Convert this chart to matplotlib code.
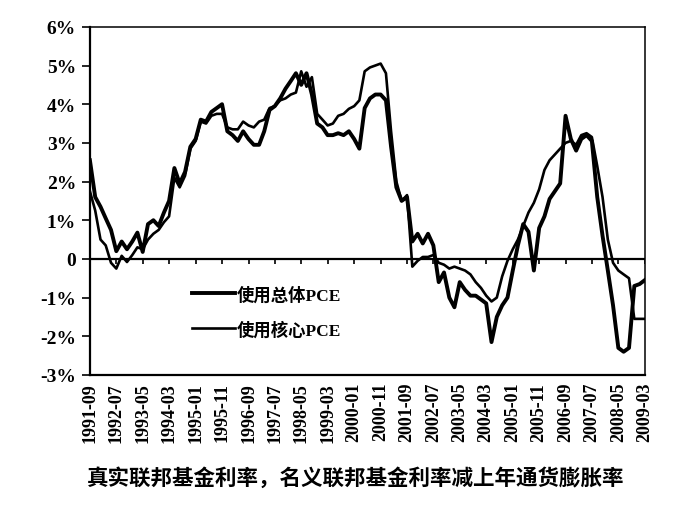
import numpy as np
import pandas as pd
import matplotlib
matplotlib.use('Agg')
import matplotlib.pyplot as plt
import matplotlib.dates as mdates

# real fed funds rate, bi-monthly readings 1991-09 .. 2009-03
start = '1991-09-01'
end = '2009-03-01'

headline = [2.55, 1.6, 1.35, 1.05, 0.75, 0.2, 0.45, 0.25, 0.45, 0.68,
            0.18, 0.9, 1.0, 0.85, 1.2, 1.5, 2.35, 1.95, 2.25, 2.9,
            3.1, 3.6, 3.55, 3.8, 3.9, 4.0, 3.3, 3.2, 3.05, 3.3,
            3.1, 2.95, 2.95, 3.3, 3.85, 3.95, 4.15, 4.4, 4.6, 4.8,
            4.5, 4.8, 4.25, 3.5, 3.4, 3.2, 3.2, 3.25, 3.2, 3.3,
            3.1, 2.85, 3.9, 4.15, 4.25, 4.25, 4.1, 2.9, 1.85, 1.5,
            1.6, 0.45, 0.65, 0.4, 0.65, 0.35, -0.6, -0.35, -1.0, -1.25,
            -0.6, -0.8, -0.95, -0.95, -1.05, -1.15, -2.15, -1.5, -1.2, -1.0,
            -0.3, 0.35, 0.9, 0.7, -0.3, 0.8, 1.1, 1.55, 1.75, 1.95,
            3.7, 3.1, 2.8, 3.1, 3.2, 3.05, 1.6, 0.6, -0.3, -1.2,
            -2.3, -2.4, -2.3, -0.7, -0.65, -0.55]

core = [1.75, 1.25, 0.5, 0.35, -0.1, -0.25, 0.08, -0.08, 0.1, 0.3,
        0.25, 0.5, 0.65, 0.75, 0.95, 1.1, 2.1, 1.85, 2.15, 2.85,
        3.05, 3.55, 3.5, 3.7, 3.75, 3.75, 3.4, 3.35, 3.35, 3.55,
        3.45, 3.4, 3.55, 3.6, 3.9, 3.95, 4.1, 4.15, 4.25, 4.3,
        4.85, 4.45, 4.7, 3.75, 3.6, 3.45, 3.5, 3.7, 3.75, 3.88,
        3.95, 4.1, 4.85, 4.95, 5.0, 5.05, 4.8, 3.3, 2.0, 1.5,
        1.65, -0.2, -0.05, 0.05, 0.05, 0.1, -0.1, -0.15, -0.25, -0.2,
        -0.25, -0.3, -0.4, -0.6, -0.75, -0.95, -1.1, -1.0, -0.45, -0.05,
        0.25, 0.5, 0.85, 1.2, 1.45, 1.8, 2.3, 2.55, 2.7, 2.85,
        3.0, 3.05, 2.95, 3.2, 3.25, 3.15, 2.4, 1.6, 0.5, -0.1,
        -0.3, -0.4, -0.5, -1.55, -1.55, -1.55]

yticks = [6, 5, 4, 3, 2, 1, 0, -1, -2, -3]
ytick_labels = ['6%', '5%', '4%', '3%', '2%', '1%', '0', '-1%', '-2%', '-3%']

series_labels = ['使用总体PCE', '使用核心PCE']
title = '真实联邦基金利率，名义联邦基金利率减上年通货膨胀率'

dates = pd.date_range(start, end, freq='2MS')
tick_dates = pd.date_range(start, end, freq='10MS')

serif = ['Liberation Serif', 'Noto Sans CJK SC']

fig = plt.figure(figsize=(6.97, 5.06), dpi=100)
ax = fig.add_axes([0.129, 0.257, 0.796, 0.688])

ax.plot(dates, headline, color='black', lw=2.8, label=series_labels[0],
        solid_joinstyle='round')
ax.plot(dates, core, color='black', lw=1.9, label=series_labels[1],
        solid_joinstyle='round')

# zero line with its own small tick marks
ax.axhline(0, color='black', lw=1.6)
ax.vlines(tick_dates, -0.13, 0, color='black', lw=1.2)

ax.set_xlim(pd.Timestamp(start), pd.Timestamp(end))
ax.set_ylim(-3, 6)

ax.set_yticks(yticks)
ax.set_yticklabels(ytick_labels, family=serif, fontweight='bold', fontsize=14)
ax.tick_params(axis='y', direction='out', length=6, width=1.2, pad=4)

ax.set_xticks(tick_dates)
ax.set_xticklabels([d.strftime('%Y-%m') for d in tick_dates], rotation=90,
                   family=serif, fontweight='bold', fontsize=13)
ax.tick_params(axis='x', length=0, pad=5)

for side in ['left', 'bottom']:
    ax.spines[side].set_linewidth(1.6)
for side in ['top', 'right']:
    ax.spines[side].set_linewidth(1.1)

leg = ax.legend(loc='upper left', bbox_to_anchor=(0.155, 0.30), frameon=False,
                handlelength=2.5, handletextpad=0.1, labelspacing=1.0,
                prop={'family': serif, 'weight': 'bold', 'size': 12.5})

fig.text(0.51, 0.055, title, ha='center', va='center',
         family=['Noto Sans CJK SC'], fontweight='bold', fontsize=15.5)

fig.savefig('out.png', dpi=100)
